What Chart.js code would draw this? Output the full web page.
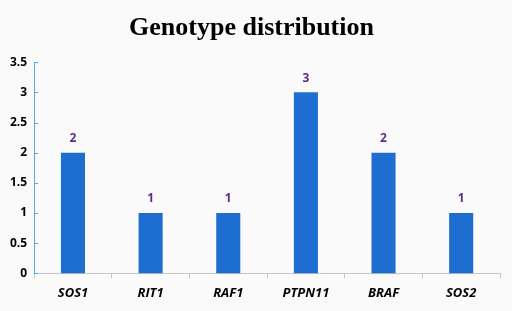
<!DOCTYPE html>
<html>
<head>
<meta charset="utf-8">
<script src="https://cdn.jsdelivr.net/npm/chart.js@4"></script>
<style>
  html, body { margin: 0; padding: 0; background: #fafafa; }
  #wrap { width: 512px; height: 311px; }
</style>
</head>
<body>
<div id="wrap"><canvas id="chart" width="512" height="311"></canvas></div>
<script>
const genes = ['SOS1', 'RIT1', 'RAF1', 'PTPN11', 'BRAF', 'SOS2'];
const counts = [2, 1, 1, 3, 2, 1];
const yTicks = [0, 0.5, 1, 1.5, 2, 2.5, 3, 3.5];

// value labels above bars + inward tick marks on the y axis
const extras = {
    id: 'extras',
    afterDatasetsDraw(chart) {
        const ctx = chart.ctx;
        const meta = chart.getDatasetMeta(0);
        ctx.save();
        ctx.fillStyle = '#5a2d86';
        ctx.font = 'bold 12px "Open Sans", sans-serif';
        ctx.textAlign = 'center';
        ctx.textBaseline = 'bottom';
        meta.data.forEach((bar, i) => {
            ctx.fillText(counts[i], bar.x, bar.y - 8);
        });
        const y = chart.scales.y;
        ctx.strokeStyle = '#5aa9dc';
        ctx.lineWidth = 1;
        yTicks.forEach(v => {
            const py = Math.round(y.getPixelForValue(v)) + 0.5;
            ctx.beginPath();
            ctx.moveTo(y.right, py);
            ctx.lineTo(y.right + 4, py);
            ctx.stroke();
        });
        ctx.restore();
    }
};

new Chart(document.getElementById('chart').getContext('2d'), {
    type: 'bar',
    data: {
        labels: genes,
        datasets: [{
            data: counts,
            backgroundColor: '#1e6dd0',
            borderWidth: 0,
            barPercentage: 0.62,
            categoryPercentage: 0.5
        }]
    },
    options: {
        responsive: false,
        animation: false,
        layout: { padding: { left: 3, right: 12, top: 0, bottom: 3 } },
        plugins: {
            legend: { display: false },
            tooltip: { enabled: false },
            title: {
                display: true,
                text: 'Genotype distribution',
                color: '#000',
                font: { family: '"Liberation Serif", "Times New Roman", serif', size: 26, weight: 'bold' },
                padding: { top: 13, bottom: 18 }
            }
        },
        scales: {
            x: {
                grid: { display: true, drawOnChartArea: false, offset: true, color: '#c8c8c8', tickLength: 5 },
                border: { color: '#c8c8c8' },
                ticks: {
                    color: '#000',
                    padding: 7,
                    font: { family: '"Open Sans", sans-serif', size: 13, weight: 'bold', style: 'italic' }
                }
            },
            y: {
                min: 0,
                max: 3.5,
                afterBuildTicks: (axis) => { axis.ticks = yTicks.map(v => ({ value: v })); },
                grid: { display: false, drawTicks: false },
                border: { color: '#5aa9dc' },
                ticks: {
                    color: '#000',
                    padding: 7,
                    callback: (v) => String(v),
                    font: { family: '"Open Sans", sans-serif', size: 12, weight: 'bold' }
                }
            }
        }
    },
    plugins: [extras]
});
</script>
</body>
</html>
